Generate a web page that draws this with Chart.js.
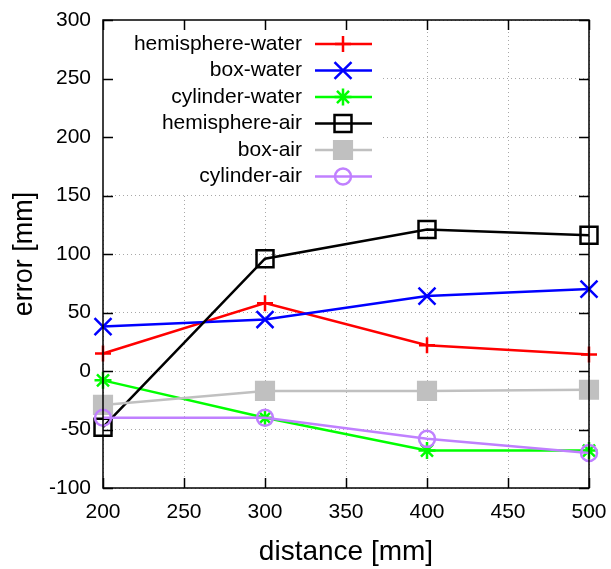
<!DOCTYPE html>
<html>
<head>
<meta charset="utf-8">
<script src="https://cdn.jsdelivr.net/npm/chart.js@4.4.1/dist/chart.umd.min.js"></script>
<style>
html,body{margin:0;padding:0;background:#fff;}
#wrap{width:611px;height:569px;}
</style>
</head>
<body>
<div id="wrap"><canvas id="c" width="611" height="569"></canvas></div>
<script>
// ---- data ----
const distances = [200, 300, 400, 500];
const seriesNames = ['hemisphere-water', 'box-water', 'cylinder-water', 'hemisphere-air', 'box-air', 'cylinder-air'];
const hemisphereWater = [15, 58, 22, 14];
const boxWater = [38, 44, 64, 70];
const cylinderWater = [-8, -40, -68, -68];
const hemisphereAir = [-48, 96, 121, 116];
const boxAir = [-29, -17, -17, -16];
const cylinderAir = [-40, -40, -58, -70];
const xTickRange = [200, 500, 50];
const yTickRange = [-100, 300, 50];

// ---- styles ----
const FONT = "'Liberation Sans', Arial, Helvetica, sans-serif";
const styles = [
  {color:'#ff0000', pointStyle:'cross', radius:8, bg:'rgba(0,0,0,0)'},
  {color:'#0000ff', pointStyle:'crossRot', radius:12, bg:'rgba(0,0,0,0)'},
  {color:'#00ff00', pointStyle:'star', radius:8.5, bg:'rgba(0,0,0,0)'},
  {color:'#000000', pointStyle:'rect', radius:12, bg:'rgba(0,0,0,0)'},
  {color:'#c0c0c0', pointStyle:'rect', radius:12.5, bg:'#c0c0c0'},
  {color:'#c080ff', pointStyle:'circle', radius:8, bg:'rgba(0,0,0,0)'}
];
const allSeries = [hemisphereWater, boxWater, cylinderWater, hemisphereAir, boxAir, cylinderAir];

const datasets = allSeries.map((vals, i) => ({
  label: seriesNames[i],
  data: distances.map((x, j) => ({x: x, y: vals[j]})),
  borderColor: styles[i].color,
  backgroundColor: styles[i].bg,
  pointBorderColor: styles[i].color,
  pointBackgroundColor: styles[i].bg,
  pointStyle: styles[i].pointStyle,
  pointRadius: styles[i].radius,
  pointHoverRadius: styles[i].radius,
  pointBorderWidth: 2.5,
  borderWidth: 2.5,
  tension: 0,
  fill: false,
  clip: false,
  order: allSeries.length - i
}));

const LEG = {boxW: 280, boxH: 173, textRight: 302, lineX0: 315, lineX1: 372, markX: 343, y0: 44, dy: 26.5, font: 21};

const framePlugin = {
  id: 'frame',
  beforeDatasetsDraw(chart) {
    const ctx = chart.ctx, a = chart.chartArea;
    ctx.save();
    ctx.fillStyle = '#ffffff';
    ctx.fillRect(a.left, a.top, LEG.boxW, LEG.boxH);
    ctx.restore();
  },
  afterDatasetsDraw(chart) {
    const ctx = chart.ctx, a = chart.chartArea;
    const xs = chart.scales.x, ys = chart.scales.y;
    ctx.save();
    ctx.strokeStyle = '#000';
    ctx.lineWidth = 1.5;
    ctx.beginPath();
    const TL = 10;
    xs.ticks.forEach(t => {
      const px = Math.round(xs.getPixelForValue(t.value)) + 0.5;
      ctx.moveTo(px, a.bottom); ctx.lineTo(px, a.bottom - TL);
      ctx.moveTo(px, a.top); ctx.lineTo(px, a.top + TL);
    });
    ys.ticks.forEach(t => {
      const py = Math.round(ys.getPixelForValue(t.value)) + 0.5;
      ctx.moveTo(a.left, py); ctx.lineTo(a.left + TL, py);
      ctx.moveTo(a.right, py); ctx.lineTo(a.right - TL, py);
    });
    ctx.stroke();
    ctx.strokeRect(a.left, a.top, a.right - a.left, a.bottom - a.top);

    // legend
    chart.data.datasets.forEach((ds, i) => {
      const y = LEG.y0 + i * LEG.dy;
      ctx.fillStyle = '#000';
      ctx.font = LEG.font + 'px ' + FONT;
      ctx.textAlign = 'right';
      ctx.textBaseline = 'middle';
      ctx.fillText(ds.label, LEG.textRight, y);
      ctx.strokeStyle = ds.borderColor;
      ctx.lineWidth = ds.borderWidth;
      ctx.beginPath();
      ctx.moveTo(LEG.lineX0, y); ctx.lineTo(LEG.lineX1, y);
      ctx.stroke();
      ctx.fillStyle = ds.pointBackgroundColor;
      ctx.strokeStyle = ds.pointBorderColor;
      ctx.lineWidth = ds.pointBorderWidth;
      Chart.helpers.drawPoint(ctx, {pointStyle: ds.pointStyle, radius: ds.pointRadius, borderWidth: ds.pointBorderWidth, rotation: 0}, LEG.markX, y);
    });
    ctx.restore();
  }
};

new Chart(document.getElementById('c'), {
  type: 'line',
  data: {datasets: datasets},
  options: {
    responsive: false,
    animation: false,
    events: [],
    layout: {padding: {top: 20, right: 22, left: 0, bottom: 0}},
    plugins: {legend: {display: false}, tooltip: {enabled: false}},
    scales: {
      x: {
        type: 'linear',
        min: xTickRange[0], max: xTickRange[1],
        ticks: {stepSize: xTickRange[2], color: '#000', font: {family: FONT, size: 21}, padding: 12, maxRotation: 0},
        grid: {color: '#a8a8a8', lineWidth: 1, drawTicks: false},
        border: {display: false, dash: [1, 3]},
        title: {display: true, text: 'distance [mm]', color: '#000', font: {family: FONT, size: 28}, padding: {top: 0, bottom: 0}},
        afterFit(s) { s.height = 81; s.paddingLeft = 0; s.paddingRight = 0; }
      },
      y: {
        type: 'linear',
        min: yTickRange[0], max: yTickRange[1],
        ticks: {stepSize: yTickRange[2], color: '#000', font: {family: FONT, size: 21}, padding: 12},
        grid: {color: '#a8a8a8', lineWidth: 1, drawTicks: false},
        border: {display: false, dash: [1, 3]},
        title: {display: true, text: 'error [mm]', color: '#000', font: {family: FONT, size: 27}, padding: {top: 8, bottom: 0}},
        afterFit(s) { s.width = 103; s.paddingTop = 0; s.paddingBottom = 0; }
      }
    }
  },
  plugins: [framePlugin]
});
</script>
</body>
</html>
